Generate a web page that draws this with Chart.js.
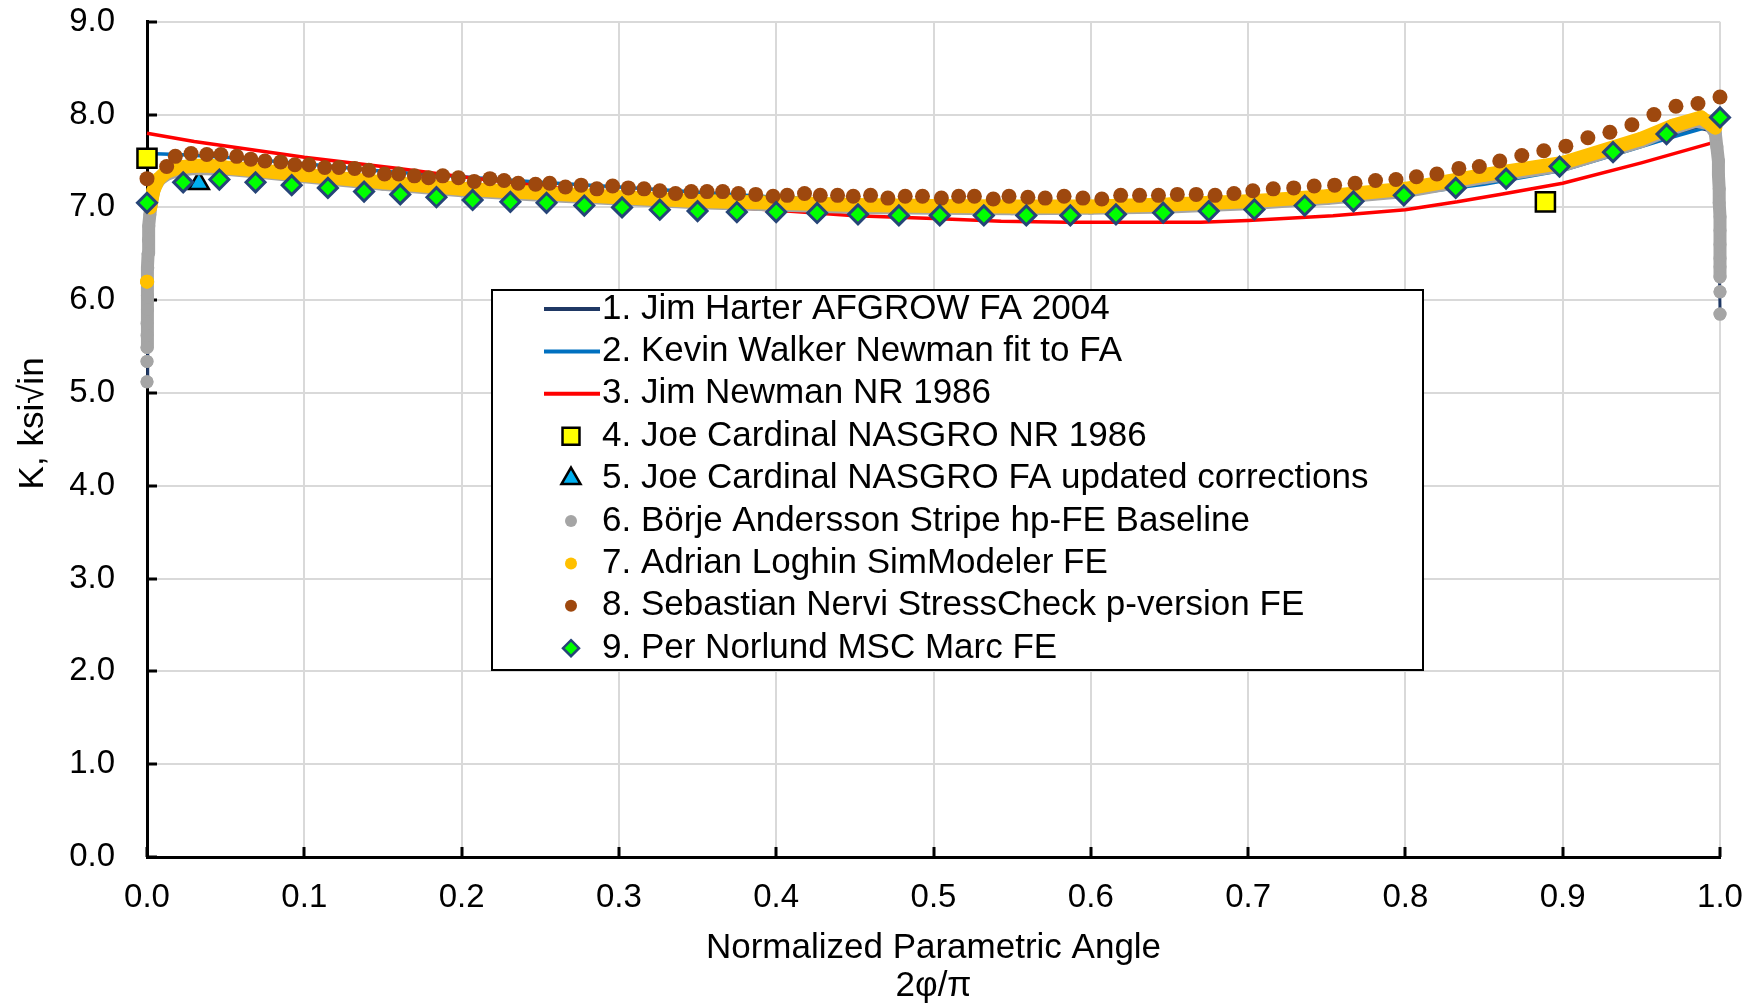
<!DOCTYPE html>
<html>
<head>
<meta charset="utf-8">
<title>K along crack front</title>
<script src="https://cdn.jsdelivr.net/npm/chart.js@4.4.1/dist/chart.umd.min.js"></script>
<style>
  html, body { margin: 0; padding: 0; background: #fff; }
  #wrap { width: 1749px; height: 1006px; position: relative; }
</style>
</head>
<body>
<div id="wrap"><canvas id="kChart"></canvas></div>
<script>
// series names, in legend order
const seriesNames = [
  '1. Jim Harter AFGROW FA 2004',
  '2. Kevin Walker Newman fit to FA',
  '3. Jim Newman NR 1986',
  '4. Joe Cardinal NASGRO NR 1986',
  '5. Joe Cardinal NASGRO FA updated corrections',
  '6. Börje Andersson Stripe hp-FE Baseline',
  '7. Adrian Loghin SimModeler FE',
  '8. Sebastian Nervi StressCheck p-version FE',
  '9. Per Norlund MSC Marc FE'
];
const yTitle = 'K, ksi√in';
const xTitle = ['Normalized Parametric Angle', '2φ/π'];

// 1. AFGROW FA
const harterX = [0, 0.0003, 0.0006, 0.001, 0.002, 0.004, 0.008, 0.02, 0.04, 0.1, 0.2, 0.3, 0.4, 0.5,
  0.6, 0.7, 0.8, 0.9, 0.95, 0.985, 0.995, 0.999, 1.0];
const harterY = [5.12, 5.9, 6.3, 6.6, 6.9, 7.15, 7.3, 7.40, 7.42, 7.33, 7.18, 7.09, 7.025, 6.99,
  6.99, 7.04, 7.17, 7.43, 7.67, 7.86, 7.82, 7.2, 5.9];

// 2. Newman fit to FA
const walkerX = [0, 0.02, 0.05, 0.1, 0.15, 0.2, 0.25, 0.3, 0.4, 0.5, 0.6, 0.7, 0.8, 0.85, 0.9,
  0.932, 0.966, 0.991, 1.0];
const walkerY = [7.58, 7.57, 7.54, 7.47, 7.39, 7.33, 7.27, 7.22, 7.11, 7.04, 7.01, 7.03, 7.14, 7.25, 7.40,
  7.56, 7.74, 7.86, 7.90];

// 3. Newman NR 1986
const newmanX = [0, 0.03, 0.1, 0.16, 0.2, 0.25, 0.3, 0.356, 0.4, 0.45, 0.5, 0.543, 0.585, 0.62,
  0.67, 0.7, 0.754, 0.8, 0.833, 0.86, 0.9, 0.95, 1.0];
const newmanY = [7.80, 7.71, 7.54, 7.42, 7.33, 7.23, 7.13, 7.02, 6.97, 6.91, 6.88, 6.85, 6.84, 6.84,
  6.84, 6.86, 6.91, 6.975, 7.06, 7.14, 7.26, 7.48, 7.72];

// 4. NASGRO NR
const nasgroNrX = [0, 0.889];
const nasgroNrY = [7.53, 7.06];

// 5. NASGRO FA
const nasgroFaX = [0.033];
const nasgroFaY = [7.26];

// 6. Stripe baseline (null = break in the trace)
const anderssonX = [0, 0, 0, 0, 0, 0, 0, 0.0003, 0.0003, 0.0005, 0.0005, 0.0007, 0.0009, 0.0012,
  0.0018, 0.0025, 0.0035, 0.005, 0.008, 0.013, 0.02, 0.03, 0.05, 0.07, 0.1, 0.15, 0.2, 0.25,
  0.3, 0.35, 0.4, 0.45, 0.5, 0.55, 0.6, 0.65, 0.7, 0.75, 0.8, 0.85, 0.9, 0.95, 0.97, 0.985,
  0.993, 0.997, 0.998, 0.999, 0.999, 0.9995, 0.9995, 1.0, 1.0, 1.0, 1.0, 1.0, 1.0, 1.0, 1.0, 1.0, 1.0];
const anderssonY = [5.12, null, 5.34, null, 5.49, 5.62, 5.75, 5.9, 6.05, 6.2, 6.35, 6.5, 6.65, 6.8,
  6.92, 7.02, 7.12, 7.22, 7.30, 7.36, 7.40, 7.42, 7.41, 7.38, 7.33, 7.25, 7.18, 7.13,
  7.09, 7.05, 7.025, 7.0, 6.99, 6.985, 6.99, 7.005, 7.04, 7.095, 7.17, 7.32, 7.45, 7.71, 7.85, 7.93,
  7.9, 7.8, 7.65, 7.5, 7.35, 7.2, 7.05, 6.9, 6.75, 6.6, 6.45, 6.36, 6.25, null, 6.09, null, 5.85];

// 7. SimModeler
const loghinX = [0, 0, 0.002, 0.004, 0.007, 0.012, 0.02, 0.03, 0.04, 0.05, 0.07, 0.1, 0.15, 0.2,
  0.25, 0.3, 0.35, 0.4, 0.45, 0.5, 0.55, 0.6, 0.65, 0.7, 0.75, 0.8, 0.85, 0.9, 0.95, 0.97, 0.988, 0.997];
const loghinY = [6.20, null, 7.00, 7.18, 7.30, 7.38, 7.43, 7.45, 7.45, 7.43, 7.40, 7.35, 7.27, 7.20,
  7.155, 7.11, 7.07, 7.05, 7.025, 7.014, 7.01, 7.01, 7.03, 7.065, 7.12, 7.20, 7.35, 7.48, 7.74, 7.88, 7.97, 7.86];

// 8. StressCheck
const nerviX = [0, 0.0125, 0.018, 0.028, 0.038, 0.047, 0.057, 0.066, 0.075, 0.085,
  0.094, 0.103, 0.113, 0.122, 0.132, 0.141, 0.151, 0.160, 0.170, 0.179,
  0.188, 0.198, 0.208, 0.218, 0.227, 0.236, 0.247, 0.256, 0.266, 0.276,
  0.286, 0.296, 0.306, 0.316, 0.326, 0.336, 0.346, 0.356, 0.366, 0.376,
  0.387, 0.398, 0.407, 0.418, 0.428, 0.439, 0.449, 0.460, 0.471, 0.482,
  0.493, 0.505, 0.516, 0.526, 0.538, 0.548, 0.560, 0.571, 0.583, 0.595,
  0.607, 0.619, 0.631, 0.643, 0.655, 0.667, 0.679, 0.691, 0.703, 0.716,
  0.729, 0.742, 0.755, 0.768, 0.781, 0.794, 0.807, 0.820, 0.834, 0.847,
  0.860, 0.874, 0.888, 0.902, 0.916, 0.930, 0.944, 0.958, 0.972, 0.986, 1.0];
const nerviY = [7.31, 7.44, 7.55, 7.58, 7.57, 7.57, 7.55, 7.52, 7.50, 7.49,
  7.46, 7.46, 7.43, 7.43, 7.42, 7.40, 7.36, 7.36, 7.34, 7.32,
  7.34, 7.32, 7.28, 7.31, 7.29, 7.26, 7.25, 7.26, 7.22, 7.24,
  7.20, 7.23, 7.21, 7.20, 7.18, 7.15, 7.17, 7.17, 7.17, 7.15,
  7.14, 7.12, 7.13, 7.15, 7.13, 7.13, 7.12, 7.13, 7.10, 7.12,
  7.12, 7.10, 7.12, 7.12, 7.09, 7.12, 7.11, 7.10, 7.12, 7.10,
  7.09, 7.13, 7.13, 7.13, 7.14, 7.14, 7.13, 7.15, 7.18, 7.20,
  7.21, 7.23, 7.24, 7.26, 7.29, 7.30, 7.33, 7.36, 7.42, 7.44,
  7.50, 7.56, 7.61, 7.66, 7.75, 7.81, 7.89, 8.00, 8.09, 8.12, 8.19];

// 9. MSC Marc
const norlundX = [0, 0.023, 0.046, 0.069, 0.092, 0.115, 0.138, 0.161, 0.184, 0.207,
  0.231, 0.254, 0.278, 0.302, 0.326, 0.350, 0.375, 0.400, 0.426, 0.452,
  0.478, 0.504, 0.532, 0.559, 0.587, 0.616, 0.646, 0.675, 0.704, 0.736,
  0.767, 0.799, 0.832, 0.864, 0.898, 0.932, 0.966, 1.0];
const norlundY = [7.05, 7.27, 7.30, 7.27, 7.24, 7.21, 7.17, 7.14, 7.11, 7.08,
  7.06, 7.05, 7.02, 7.00, 6.975, 6.96, 6.95, 6.95, 6.94, 6.925,
  6.914, 6.914, 6.914, 6.914, 6.914, 6.925, 6.943, 6.96, 6.978, 7.02,
  7.065, 7.13, 7.21, 7.31, 7.44, 7.595, 7.79, 7.97];

const FONT = "'Liberation Sans', Arial, sans-serif";
const GRID = '#D9D9D9';

function pairs(xs, ys) {
  return xs.map((x, i) => ({ x: x, y: ys[i] }));
}

function marker(ctx, style, x, y, r) {
  ctx.beginPath();
  if (style === 'circle') {
    ctx.arc(x, y, r, 0, Math.PI * 2);
  } else if (style === 'rect') {
    const s = r * Math.SQRT1_2;
    ctx.rect(x - s, y - s, 2 * s, 2 * s);
  } else if (style === 'triangle') {
    ctx.moveTo(x, y - r);
    ctx.lineTo(x + r * Math.sin(Math.PI * 2 / 3), y + r / 2);
    ctx.lineTo(x - r * Math.sin(Math.PI * 2 / 3), y + r / 2);
    ctx.closePath();
  } else if (style === 'rectRot') {
    ctx.moveTo(x, y - r);
    ctx.lineTo(x + r, y);
    ctx.lineTo(x, y + r);
    ctx.lineTo(x - r, y);
    ctx.closePath();
  }
}

// legend box sitting inside the plot, like the spreadsheet one
const boxLegend = {
  id: 'boxLegend',
  afterDraw(chart) {
    const ctx = chart.ctx;
    const bx = 492, by = 290, bw = 931, bh = 380;
    ctx.save();
    ctx.fillStyle = '#fff';
    ctx.fillRect(bx, by, bw, bh);
    ctx.strokeStyle = '#000';
    ctx.lineWidth = 2;
    ctx.strokeRect(bx, by, bw, bh);
    ctx.font = '35px ' + FONT;
    ctx.textBaseline = 'middle';
    chart.data.datasets.forEach((ds, i) => {
      const cy = 309 + i * 42.4;
      const lg = ds.legendMark;
      if (lg.line) {
        ctx.strokeStyle = ds.borderColor;
        ctx.lineWidth = 4;
        ctx.beginPath();
        ctx.moveTo(544, cy);
        ctx.lineTo(600, cy);
        ctx.stroke();
      } else {
        marker(ctx, ds.pointStyle, 571, cy, lg.r);
        ctx.fillStyle = ds.pointBackgroundColor;
        ctx.fill();
        if (ds.pointBorderWidth > 0) {
          ctx.strokeStyle = ds.pointBorderColor;
          ctx.lineWidth = lg.bw;
          ctx.stroke();
        }
      }
      ctx.fillStyle = '#000';
      ctx.fillText(ds.label, 602, cy);
    });
    ctx.restore();
  }
};

// y title sits a bit above the plot middle in the original
const sideTitle = {
  id: 'sideTitle',
  afterDraw(chart) {
    const ctx = chart.ctx;
    const area = chart.chartArea;
    ctx.save();
    ctx.translate(33, (area.top + area.bottom) / 2 - 16);
    ctx.rotate(-Math.PI / 2);
    ctx.font = '35px ' + FONT;
    ctx.fillStyle = '#000';
    ctx.textAlign = 'center';
    ctx.textBaseline = 'middle';
    ctx.fillText(yTitle, 0, 0);
    ctx.restore();
  }
};

// small tick marks pointing into the plot
const innerTicks = {
  id: 'innerTicks',
  beforeDatasetsDraw(chart) {
    const ctx = chart.ctx;
    const area = chart.chartArea;
    const xs = chart.scales.x, ys = chart.scales.y;
    ctx.save();
    ctx.strokeStyle = '#000';
    ctx.lineWidth = 3;
    ctx.beginPath();
    xs.ticks.forEach(t => {
      const px = Math.round(xs.getPixelForValue(t.value));
      ctx.moveTo(px, area.bottom);
      ctx.lineTo(px, area.bottom - 10);
    });
    ys.ticks.forEach(t => {
      const py = Math.round(ys.getPixelForValue(t.value));
      ctx.moveTo(area.left, py);
      ctx.lineTo(area.left + 10, py);
    });
    ctx.stroke();
    ctx.restore();
  }
};

const datasets = [
  {
    label: seriesNames[0], data: pairs(harterX, harterY), showLine: true,
    borderColor: '#1F3864', borderWidth: 3, pointRadius: 0, order: 9,
    legendMark: { line: true }
  },
  {
    label: seriesNames[1], data: pairs(walkerX, walkerY), showLine: true,
    borderColor: '#0070C0', borderWidth: 3.5, pointRadius: 0, order: 8,
    legendMark: { line: true }
  },
  {
    label: seriesNames[2], data: pairs(newmanX, newmanY), showLine: true,
    borderColor: '#FF0000', borderWidth: 3.5, pointRadius: 0, order: 7,
    legendMark: { line: true }
  },
  {
    label: seriesNames[3], data: pairs(nasgroNrX, nasgroNrY), showLine: false,
    pointStyle: 'rect', pointRadius: 13.5, pointBackgroundColor: '#FFFF00',
    pointBorderColor: '#000', pointBorderWidth: 2.5, order: 6,
    legendMark: { r: 12, bw: 2.5 }
  },
  {
    label: seriesNames[4], data: pairs(nasgroFaX, nasgroFaY), showLine: false,
    pointStyle: 'triangle', pointRadius: 11.5, pointBackgroundColor: '#00B0F0',
    pointBorderColor: '#000', pointBorderWidth: 2.5, order: 5,
    legendMark: { r: 11, bw: 2.5 }
  },
  {
    label: seriesNames[5], data: pairs(anderssonX, anderssonY), showLine: true,
    borderColor: '#A5A5A5', borderWidth: 13, borderJoinStyle: 'round', borderCapStyle: 'round',
    pointStyle: 'circle', pointRadius: 6.5, pointBackgroundColor: '#A5A5A5',
    pointBorderColor: '#A5A5A5', pointBorderWidth: 0, order: 4,
    legendMark: { r: 6 }
  },
  {
    label: seriesNames[6], data: pairs(loghinX, loghinY), showLine: true,
    borderColor: '#FFC000', borderWidth: 14, borderJoinStyle: 'round', borderCapStyle: 'round',
    pointStyle: 'circle', pointRadius: 7, pointBackgroundColor: '#FFC000',
    pointBorderColor: '#FFC000', pointBorderWidth: 0, order: 3,
    legendMark: { r: 6 }
  },
  {
    label: seriesNames[7], data: pairs(nerviX, nerviY), showLine: false,
    pointStyle: 'circle', pointRadius: 7.5, pointBackgroundColor: '#9E480E',
    pointBorderColor: '#9E480E', pointBorderWidth: 0, order: 2,
    legendMark: { r: 6 }
  },
  {
    label: seriesNames[8], data: pairs(norlundX, norlundY), showLine: false,
    pointStyle: 'rectRot', pointRadius: 9.5, pointBackgroundColor: '#00FF00',
    pointBorderColor: '#264478', pointBorderWidth: 3, order: 1,
    legendMark: { r: 8, bw: 2.5 }
  }
];
datasets.forEach(d => { d.clip = false; d.tension = 0; d.spanGaps = false; });

Chart.defaults.font.family = FONT;
Chart.defaults.color = '#000';

new Chart(document.getElementById('kChart').getContext('2d'), {
  type: 'scatter',
  data: { datasets: datasets },
  options: {
    responsive: true,
    maintainAspectRatio: false,
    animation: false,
    events: [],
    layout: { padding: { top: 21, right: 29, bottom: 0, left: 0 } },
    scales: {
      x: {
        type: 'linear', min: 0, max: 1,
        ticks: {
          stepSize: 0.1, autoSkip: false, maxRotation: 0, padding: 2,
          font: { size: 33 }, callback: v => v.toFixed(1)
        },
        grid: { color: GRID, lineWidth: 2, drawTicks: true, tickLength: 19, tickColor: 'rgba(0,0,0,0)' },
        border: { color: '#000', width: 3 },
        title: {
          display: true, text: xTitle,
          font: { size: 35, lineHeight: 1.1 }, padding: { top: 0, bottom: 0 }
        },
        afterFit(scale) { scale.height = 149; }
      },
      y: {
        type: 'linear', min: 0, max: 9,
        ticks: {
          stepSize: 1, padding: 2,
          font: { size: 33 }, callback: v => v.toFixed(1)
        },
        grid: { color: GRID, lineWidth: 2, drawTicks: true, tickLength: 30, tickColor: 'rgba(0,0,0,0)' },
        border: { color: '#000', width: 3 },
        title: { display: false },
        afterFit(scale) { scale.width = 147; }
      }
    },
    plugins: {
      legend: { display: false },
      tooltip: { enabled: false }
    }
  },
  plugins: [innerTicks, sideTitle, boxLegend]
});
</script>
</body>
</html>
